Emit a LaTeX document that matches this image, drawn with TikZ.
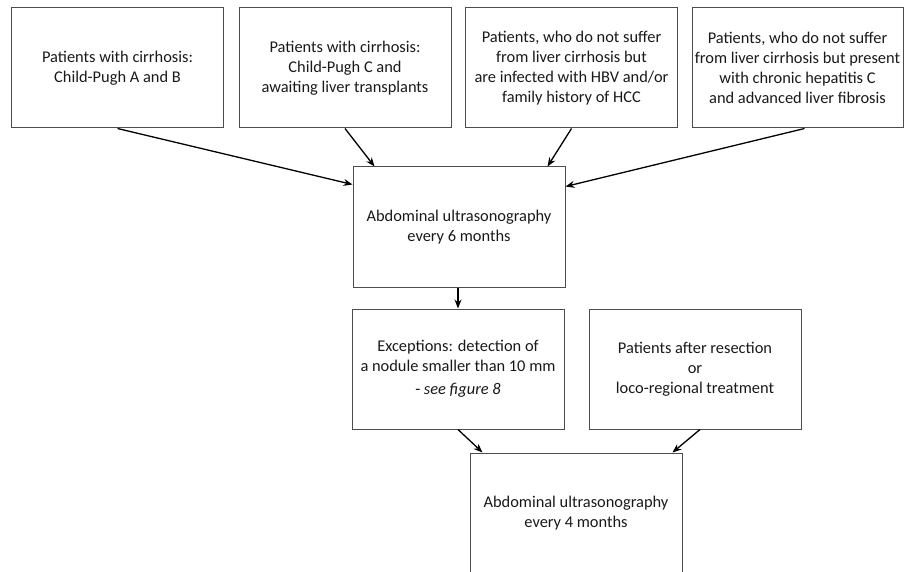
\documentclass[tikz,border=0pt]{standalone}
\usepackage{fontspec}
\setmainfont{Carlito}
\usetikzlibrary{arrows.meta,calc}
\begin{document}
\begin{tikzpicture}[x=1pt,y=-1pt,
  box/.style={draw=black!70,line width=1pt,minimum width=212pt,minimum height=120pt,inner sep=0pt,align=center,font=\fontsize{16.4}{20}\selectfont,text=black!90},
  arr/.style={draw=black,line width=1.3pt,-{Stealth[length=9pt,width=7pt]}}]
\useasboundingbox (0,0) rectangle (904,572);
\node[box] (b1) at (117.5,68) {Patients with cirrhosis:\\Child-Pugh A and B};
\node[box] (b2) at (345,68) {Patients with cirrhosis:\\Child-Pugh C and\\awaiting liver transplants};
\node[box] (b3) at (571.5,68) {Patients, who do not suffer\\from liver cirrhosis but\\are infected with HBV and/or\\family history of HCC};
\node[box,minimum width=211pt] (b4) at (797.5,68) {Patients, who do not suffer\\from liver cirrhosis but present\\with chronic hepatitis C\\and advanced liver fibrosis};
\node[box] (c1) at (459,227) {Abdominal ultrasonography\\every 6 months};
\node[box] (ex) at (458,369) {Exceptions: detection of\\a nodule smaller than 10 mm\\[3pt]- \textit{see figure 8}};
\node[box] (re) at (695,369) {Patients after resection\\or\\loco-regional treatment};
\node[box] (bt) at (576,513) {Abdominal ultrasonography\\every 4 months};
\coordinate (s4) at ($(b4.south)+(7,0)$);
\coordinate (sr) at ($(re.south)+(5,0)$);
\draw[arr] (b1.south) -- ($(c1.north west)+(0,18)$);
\draw[arr] (b2.south) -- ($(c1.north west)+(22,0)$);
\draw[arr] (b3.south) -- ($(c1.north east)+(-18,0)$);
\draw[arr] (s4) -- ($(c1.north east)+(0,20)$);
\draw[arr] (c1.south -| ex.north) -- (ex.north);
\draw[arr] (ex.south) -- ($(bt.north west)+(13,0)$);
\draw[arr] (sr) -- ($(bt.north east)+(-10,0)$);
\end{tikzpicture}
\end{document}
